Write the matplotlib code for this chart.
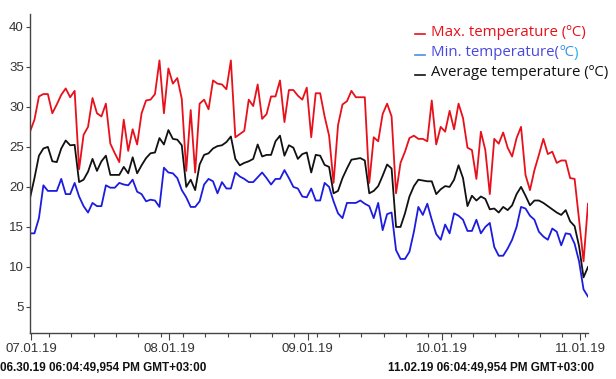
import matplotlib
matplotlib.use("Agg")
import matplotlib.pyplot as plt
import matplotlib.dates as mdates
import pandas as pd
from matplotlib.ticker import FixedLocator

# ---------------- data ----------------
start = "2019-06-30 18:04:49"
n_days = 126

t_max = [26.9, 28.4, 31.3, 31.6, 31.6, 29.2, 30.3, 31.5, 32.3, 31.2,
         32.0, 22.2, 26.5, 27.5, 31.1, 29.2, 28.8, 30.4, 25.4, 24.2,
         23.1, 28.4, 24.5, 27.2, 25.3, 29.2, 30.8, 30.9, 31.6, 35.8,
         29.2, 34.8, 32.9, 33.6, 31.0, 22.0, 29.6, 21.8, 30.4, 30.9,
         29.7, 33.3, 32.9, 32.8, 32.2, 35.8, 26.2, 26.6, 27.0, 30.9,
         30.1, 32.8, 28.5, 29.1, 31.3, 31.3, 33.3, 28.1, 32.1, 32.1,
         31.4, 30.9, 32.4, 26.2, 31.7, 31.7, 28.8, 26.4, 20.5, 27.7,
         30.3, 30.7, 32.0, 31.2, 31.2, 31.2, 20.5, 26.2, 25.7, 29.1,
         30.4, 28.8, 19.2, 23.0, 24.4, 26.1, 26.4, 26.0, 26.0, 25.7,
         30.8, 25.3, 27.5, 26.9, 29.5, 27.2, 30.4, 28.6, 24.9, 24.6,
         21.0, 26.9, 24.6, 19.1, 26.0, 25.4, 26.8, 24.9, 23.8, 26.1,
         27.5, 21.5, 19.6, 22.1, 24.0, 26.0, 24.1, 24.4, 23.0, 23.3,
         23.3, 21.1, 21.0, 15.9, 10.7, 17.9]

t_min = [14.2, 14.2, 16.1, 20.2, 19.5, 19.5, 19.5, 21.0, 19.1, 19.1,
         20.5, 18.8, 17.6, 16.8, 18.0, 17.6, 17.6, 20.2, 19.9, 19.9,
         20.5, 20.3, 20.2, 20.9, 19.4, 19.1, 18.2, 18.4, 18.3, 17.5,
         22.4, 21.8, 21.7, 21.1, 19.6, 18.7, 17.5, 17.5, 18.2, 20.3,
         21.0, 20.7, 19.2, 20.6, 19.8, 19.8, 21.8, 21.3, 21.0, 20.6,
         20.6, 21.2, 21.8, 21.1, 20.3, 21.0, 21.0, 22.1, 21.1, 20.0,
         19.8, 18.8, 18.7, 19.8, 18.3, 18.3, 20.5, 20.0, 18.2, 16.7,
         16.1, 18.0, 18.0, 18.0, 18.3, 17.9, 17.6, 16.1, 18.0, 14.6,
         16.6, 16.8, 12.1, 11.0, 11.0, 11.9, 14.4, 17.5, 16.5, 17.9,
         15.9, 14.1, 13.4, 15.3, 14.2, 16.7, 16.4, 15.9, 14.5, 14.5,
         15.9, 14.2, 15.0, 15.5, 12.5, 11.4, 11.4, 12.3, 13.4, 15.0,
         17.5, 17.3, 16.4, 15.9, 14.4, 13.8, 13.4, 14.8, 14.4, 12.7,
         14.2, 14.1, 12.9, 10.7, 7.2, 6.3]

t_avg = [18.6, 21.1, 23.9, 24.8, 25.0, 23.2, 23.1, 24.8, 25.8, 25.2,
         25.25, 20.6, 20.9, 21.9, 23.5, 22.0, 23.2, 23.9, 21.5, 21.5,
         21.5, 22.5, 21.7, 23.7, 21.7, 22.7, 23.6, 24.2, 24.3, 26.1,
         25.3, 27.1, 26.0, 25.9, 25.2, 20.0, 20.9, 19.6, 22.8, 24.0,
         24.2, 24.8, 25.1, 25.2, 25.6, 26.3, 23.5, 22.7, 23.0, 23.2,
         23.5, 25.3, 23.8, 24.0, 24.0, 25.7, 26.4, 23.9, 25.2, 24.9,
         23.5, 24.1, 24.3, 21.8, 24.0, 23.9, 22.75, 22.5, 19.2, 19.5,
         21.1, 22.3, 23.4, 23.5, 23.6, 23.3, 19.2, 19.5, 20.1, 21.4,
         22.8, 22.3, 15.0, 15.0, 16.7, 18.8, 20.1, 20.9, 20.8, 20.7,
         20.7, 19.1, 19.7, 20.1, 20.0, 20.9, 22.7, 21.1, 17.6, 18.9,
         18.3, 18.8, 18.5, 17.2, 17.3, 16.8, 17.5, 17.1, 17.7, 19.1,
         20.0, 18.9, 17.7, 18.3, 18.3, 18.0, 17.6, 17.2, 16.8, 16.5,
         17.1, 15.7, 15.1, 12.6, 8.7, 10.0]

labels = ["Max. temperature (ºC)", "Min. temperature(", "Average temperature (ºC)"]
start_label = "06.30.19 06:04:49,954 PM GMT+03:00"
end_label = "11.02.19 06:04:49,954 PM GMT+03:00"
y_ticks = [5, 10, 15, 20, 25, 30, 35, 40]

dates = pd.date_range(start, periods=n_days, freq="D")

# ---------------- style ----------------
narrow = ["Liberation Sans Narrow", "Liberation Sans", "DejaVu Sans"]
red = "#e8101a"
blue = "#1c1ce0"
black = "#111111"

fig = plt.figure(figsize=(6.16, 3.79), dpi=100)
ax = fig.add_axes([30 / 616, 46 / 379, 558 / 616, 319 / 379])

ax.plot(dates, t_max, color=red, lw=1.3)
ax.plot(dates, t_min, color=blue, lw=1.3)
ax.plot(dates, t_avg, color=black, lw=1.3)

ax.set_xlim(dates[0], dates[-1])
ax.set_ylim(1.75, 41.6)

for s in ["top", "right"]:
    ax.spines[s].set_visible(False)
for s in ["left", "bottom"]:
    ax.spines[s].set_color("#444444")
    ax.spines[s].set_linewidth(1.0)

ax.set_yticks(y_ticks)
ax.tick_params(axis="y", length=3, width=0.8, color="#444444", pad=1.5,
               labelsize=9.5, labelcolor="#333333")
ax.xaxis.set_major_locator(mdates.MonthLocator())
ax.xaxis.set_major_formatter(mdates.DateFormatter("%m.%d.%y"))
minor = pd.date_range("2019-07-05", "2019-11-02", freq="5D")
ax.xaxis.set_minor_locator(FixedLocator(mdates.date2num(minor)))
ax.tick_params(axis="x", which="major", length=5, width=0.8, color="#444444",
               pad=2.5, labelsize=9.5, labelcolor="#333333")
ax.tick_params(axis="x", which="minor", length=3, width=0.8, color="#444444")
for lab in ax.get_xticklabels() + ax.get_yticklabels():
    lab.set_family(narrow)

# ---------------- legend (manual) ----------------
leg_font = ["Open Sans", "DejaVu Sans"]
rows_y = [32, 53, 73]
cols = [red, "#4848e0", black]
handle_cols = [red, "#4a8fe0", black]
texts = []
for lab, yy, c, hc in zip(labels, rows_y, cols, handle_cols):
    fy = 1 - yy / 379
    fig.add_artist(plt.Line2D([415 / 616, 425 / 616], [fy - 0.004, fy - 0.004],
                              color=hc, lw=1.2, transform=fig.transFigure))
    t = fig.text(431 / 616, fy, lab, color=c, fontsize=10.8, family=leg_font,
                 ha="left", va="center")
    texts.append(t)
ax.annotate("ºC", xy=(1, 0), xycoords=texts[1], va="bottom", ha="left",
            color="#3a8ee8", fontsize=10.8, family=leg_font,
            annotation_clip=False)
fig.canvas.draw()
bb = texts[1].get_window_extent()
t2 = fig.text(0, 0, "ºC", fontsize=10.8, family=leg_font)
w = t2.get_window_extent().width
t2.remove()
fig.text((bb.x1 + w) / 616, bb.y0 / 379, ")", color="#22b4ee", fontsize=10.8,
         family=leg_font, ha="left", va="bottom")

# ---------------- bottom range labels ----------------
fig.text(0.5 / 616, 1 - 368 / 379, start_label, fontsize=8.5, family=narrow,
         weight="bold", ha="left", va="center", color="#111111")
fig.text(388 / 616, 1 - 368 / 379, end_label, fontsize=8.5, family=narrow,
         weight="bold", ha="left", va="center", color="#111111")

fig.savefig("out.png", dpi=100)
